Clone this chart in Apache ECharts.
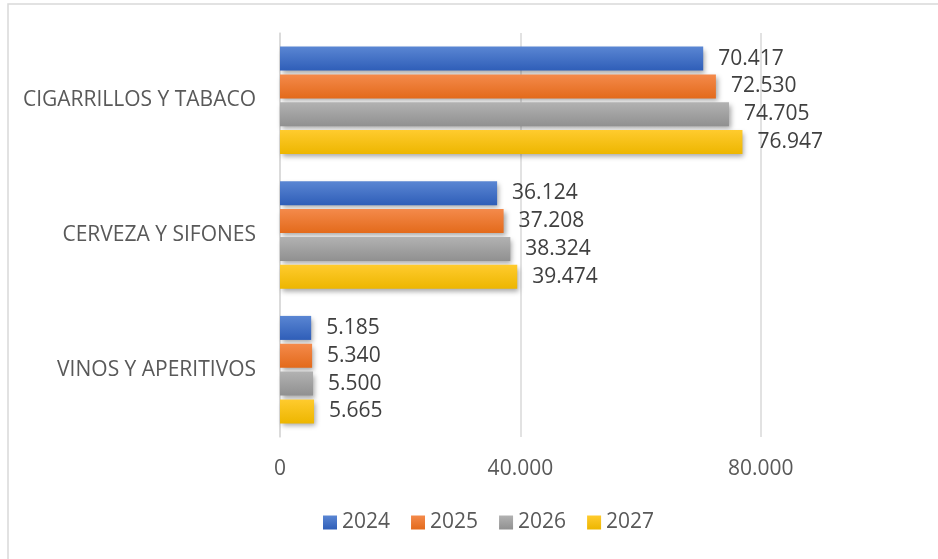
<!DOCTYPE html>
<html><head><meta charset="utf-8">
<script src="https://cdn.jsdelivr.net/npm/echarts@6/dist/echarts.min.js"></script>
<style>html,body{margin:0;padding:0;background:#fff}#c{width:938px;height:559px}</style>
</head><body><div id="c"></div>
<script>
const categories = ['CIGARRILLOS Y TABACO', 'CERVEZA Y SIFONES', 'VINOS Y APERITIVOS'];
const seriesNames = ['2024', '2025', '2026', '2027'];
const v2024 = [70417, 36124, 5185];
const v2025 = [72530, 37208, 5340];
const v2026 = [74705, 38324, 5500];
const v2027 = [76947, 39474, 5665];
const tickValues = [0, 40000, 80000];

const values = [v2024, v2025, v2026, v2027];
const colorsTop = ['#5A86D3', '#F48A4B', '#B2B2B2', '#FFCB2E'];
const colorsBot = ['#2F5EB8', '#E36A1B', '#909090', '#EDB600'];
const FONT = 'Open Sans';
function grad(i){
  return new echarts.graphic.LinearGradient(0,0,0,1,[{offset:0,color:colorsTop[i]},{offset:1,color:colorsBot[i]}]);
}
const fmt = v => v.toString().replace(/\B(?=(\d{3})+(?!\d))/g, '.');
const chart = echarts.init(document.getElementById('c'), null, {renderer:'canvas'});
chart.setOption({
  animation:false,
  backgroundColor:'#fff',
  textStyle:{fontFamily:FONT},
  graphic:[{type:'rect', shape:{x:8,y:4,width:1000,height:1000}, style:{fill:'none', stroke:'#d9d9d9', lineWidth:1.5}, silent:true}],
  grid:{left:280, right:57, top:33, bottom:122, containLabel:false},
  legend:{
    bottom:21, left:318, itemWidth:14, itemHeight:14, itemGap:21,
    icon:'rect',
    textStyle:{color:'#595959', fontSize:21, fontFamily:FONT},
    data:seriesNames.map((n,i)=>({name:n, itemStyle:{color:grad(i)}}))
  },
  xAxis:{
    type:'value', min:0, max:100000, interval:40000,
    axisLine:{show:false}, axisTick:{show:false},
    splitLine:{show:true, showMaxLine:false, lineStyle:{color:'#d9d9d9', width:1.5}},
    axisLabel:{color:'#595959', fontSize:21, fontFamily:FONT, margin:22, showMaxLabel:false,
      formatter:v=> tickValues.includes(v) ? fmt(v) : ''}
  },
  yAxis:{
    type:'category', inverse:true, data:categories,
    axisLine:{show:true, lineStyle:{color:'#d9d9d9', width:1.5}}, axisTick:{show:false},
    axisLabel:{color:'#595959', fontSize:21, fontFamily:FONT, margin:24}
  },
  series:seriesNames.map((n,i)=>({
    name:n, type:'bar', data:values[i], barWidth:24, barGap:'16%',
    itemStyle:{color:grad(i), shadowColor:'rgba(0,0,0,0.35)', shadowBlur:5, shadowOffsetX:2, shadowOffsetY:3},
    label:{show:true, position:'right', distance:15, color:'#404040', fontSize:21, fontFamily:FONT,
      formatter:p=>fmt(p.value)}
  }))
});
</script></body></html>
